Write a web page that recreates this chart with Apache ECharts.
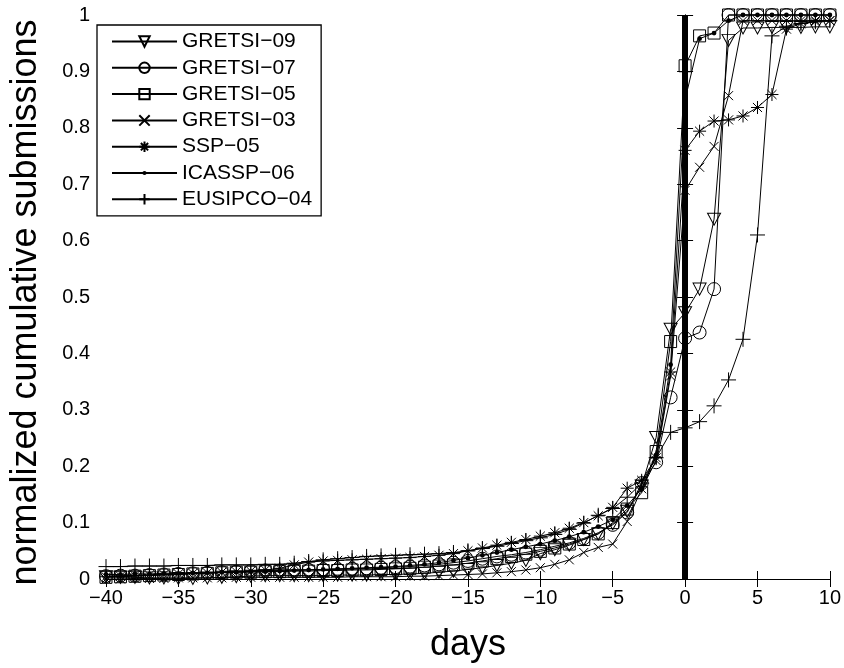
<!DOCTYPE html>
<html><head><meta charset="utf-8">
<script src="https://cdn.jsdelivr.net/npm/echarts@6/dist/echarts.min.js"></script>
<style>html,body{margin:0;padding:0;background:#fff}#c{width:844px;height:668px}</style>
</head><body><div id="c"></div>
<script>
const days = [-40,-39,-38,-37,-36,-35,-34,-33,-32,-31,-30,-29,-28,-27,-26,-25,-24,-23,-22,-21,
  -20,-19,-18,-17,-16,-15,-14,-13,-12,-11,-10,-9,-8,-7,-6,-5,-4,-3,-2,-1,0,1,2,3,4,5,6,7,8,9,10];

const gretsi09 = [0.004,0.003,0.003,0.002,0.002,0.001,0.001,0.002,0.003,0.004,0.005,0.006,0.006,0.006,0.006,0.006,0.007,0.007,0.007,0.008,
  0.008,0.009,0.010,0.012,0.014,0.017,0.020,0.024,0.028,0.033,
  0.045,0.052,0.060,0.070,0.080,0.098,0.120,0.165,
  0.251,0.443,0.472,0.514,0.638,0.955,0.977,0.977,0.978,0.978,0.978,0.979,0.979];
const gretsi07 = [0.005,0.006,0.006,0.007,0.008,0.009,0.010,0.011,0.012,0.013,0.014,0.015,0.015,0.016,0.016,0.017,0.017,0.018,0.019,0.020,
  0.021,0.022,0.024,0.026,0.029,0.032,0.036,0.040,0.043,0.047,
  0.052,0.058,0.064,0.072,0.082,0.096,0.118,0.170,
  0.207,0.322,0.427,0.437,0.514,1.0,1.0,1.0,1.0,1.0,1.0,1.0,1.0];
const gretsi05 = [0.003,0.004,0.005,0.006,0.007,0.008,0.009,0.010,0.011,0.012,0.012,0.013,0.013,0.014,0.014,0.015,0.015,0.016,0.016,0.017,
  0.018,0.019,0.021,0.023,0.025,0.028,0.032,0.036,0.040,0.044,
  0.049,0.055,0.062,0.070,0.080,0.100,0.124,0.153,
  0.226,0.421,0.910,0.963,0.968,1.0,1.0,1.0,1.0,1.0,1.0,1.0,1.0];
const gretsi03 = [0.000,0.000,0.001,0.001,0.001,0.002,0.002,0.002,0.002,0.003,0.003,0.003,0.003,0.003,0.003,0.003,0.003,0.004,0.004,0.004,
  0.004,0.005,0.005,0.006,0.007,0.008,0.009,0.011,0.013,0.016,
  0.020,0.026,0.034,0.047,0.056,0.062,0.102,0.160,
  0.210,0.360,0.689,0.730,0.767,0.857,0.990,0.990,0.990,0.990,0.990,0.990,0.990];
const ssp05 = [0.004,0.005,0.006,0.007,0.008,0.009,0.010,0.011,0.012,0.013,0.014,0.016,0.019,0.025,0.030,0.032,0.033,0.034,0.035,0.036,
  0.037,0.038,0.040,0.042,0.045,0.050,0.055,0.060,0.065,0.070,
  0.076,0.082,0.090,0.100,0.112,0.127,0.161,0.175,
  0.215,0.367,0.760,0.794,0.812,0.814,0.821,0.836,0.859,0.975,0.985,0.988,0.990];
const icassp06 = [0.008,0.008,0.009,0.009,0.010,0.010,0.011,0.011,0.012,0.012,0.013,0.013,0.014,0.015,0.016,0.017,0.018,0.019,0.020,0.021,
  0.022,0.024,0.026,0.029,0.033,0.037,0.042,0.047,0.052,0.057,
  0.062,0.068,0.075,0.083,0.093,0.105,0.130,0.160,
  0.220,0.380,0.850,0.958,0.968,0.990,1.0,1.0,1.0,1.0,1.0,1.0,1.0];
const eusipco04 = [0.022,0.022,0.023,0.023,0.023,0.024,0.024,0.024,0.025,0.025,0.025,0.026,0.026,0.028,0.031,0.034,0.036,0.038,0.040,0.041,
  0.042,0.043,0.044,0.045,0.047,0.050,0.054,0.058,0.063,0.068,
  0.073,0.079,0.088,0.099,0.113,0.125,0.145,0.170,
  0.215,0.260,0.268,0.279,0.307,0.353,0.425,0.610,0.963,0.980,0.985,0.988,0.990];

const seriesNames = ['GRETSI\u221209','GRETSI\u221207','GRETSI\u221205','GRETSI\u221203','SSP\u221205','ICASSP\u221206','EUSIPCO\u221204'];
const seriesValues = [gretsi09, gretsi07, gretsi05, gretsi03, ssp05, icassp06, eusipco04];
const deadlineDay = 0;
const xTicks = {min: -40, max: 10, step: 5};
const yTicks = {min: 0, max: 1, step: 0.1};

const CLEAR = 'rgba(0,0,0,0)';
const symbols = [
  {symbol: 'path://M0,0 L10,0 L5,8.66 Z', size: [13, 12], fill: CLEAR, bw: 1},
  {symbol: 'circle', size: 13, fill: CLEAR, bw: 1},
  {symbol: 'rect', size: 12, fill: CLEAR, bw: 1},
  {symbol: 'path://M0,0 L10,10 M10,0 L0,10', size: 9, fill: CLEAR, bw: 1},
  {symbol: 'path://M5,0 L5,10 M0,5 L10,5 M1.5,1.5 L8.5,8.5 M8.5,1.5 L1.5,8.5', size: 13, fill: CLEAR, bw: 1},
  {symbol: 'path://M0,0 L0.01,0 M10,10 L10.01,10 M5,3 A2,2 0 1 1 5,7 A2,2 0 1 1 5,3 Z', size: 12, fill: '#000', bw: 0},
  {symbol: 'path://M5,0 L5,10 M0,5 L10,5', size: 15, fill: CLEAR, bw: 1}
];

const FONT = 'Liberation Sans, Arial, Helvetica, sans-serif';
const minusFmt = v => String(v).replace('-', '\u2212');

const series = seriesNames.map((name, k) => {
  const s = {
    name: name,
    type: 'line',
    data: days.map((d, i) => [d, seriesValues[k][i]]),
    symbol: symbols[k].symbol,
    symbolSize: symbols[k].size,
    showAllSymbol: true,
    showSymbol: true,
    clip: false,
    lineStyle: {color: '#000', width: 1},
    itemStyle: {color: symbols[k].fill, borderColor: '#000', borderWidth: symbols[k].bw},
    emphasis: {disabled: true},
    z: 3
  };
  if (k === 0) {
    s.markLine = {
      silent: true, symbol: 'none', animation: false,
      label: {show: false},
      lineStyle: {color: '#000', width: 6, type: 'solid'},
      data: [{xAxis: deadlineDay}]
    };
  }
  return s;
});

const chart = echarts.init(document.getElementById('c'), null, {renderer: 'canvas'});
const axisCommon = {
  axisLine: {show: true, lineStyle: {color: '#000', width: 1}},
  splitLine: {show: false},
};
const tickStyle = {show: true, inside: true, length: 8, lineStyle: {color: '#000'}};
chart.setOption({
  animation: false,
  backgroundColor: '#fff',
  textStyle: {fontFamily: FONT},
  grid: {left: 87, right: 13, top: 15, bottom: 66, containLabel: false},
  legend: {
    orient: 'vertical', left: 97, top: 25,
    data: seriesNames,
    itemWidth: 65, itemHeight: 13, itemGap: 5.3,
    padding: [6, 9, 6, 14],
    backgroundColor: '#fff', borderColor: '#000', borderWidth: 1.3, borderRadius: 0,
    textStyle: {fontFamily: FONT, fontSize: 21, color: '#000', lineHeight: 21},
    inactiveColor: '#000', selectedMode: false
  },
  xAxis: [{
    type: 'value', min: xTicks.min, max: xTicks.max, interval: xTicks.step,
    name: 'days', nameLocation: 'middle', nameGap: 48,
    nameTextStyle: {fontFamily: FONT, fontSize: 36, color: '#000'},
    axisTick: tickStyle,
    axisLabel: {fontFamily: FONT, fontSize: 20, color: '#000', margin: 9, formatter: minusFmt},
    ...axisCommon
  }, {
    type: 'value', position: 'top', min: xTicks.min, max: xTicks.max, interval: xTicks.step,
    axisTick: tickStyle, axisLabel: {show: false}, ...axisCommon
  }],
  yAxis: [{
    type: 'value', min: yTicks.min, max: yTicks.max, interval: yTicks.step,
    name: 'normalized cumulative submissions', nameLocation: 'middle', nameGap: 62, nameRotate: 90,
    nameTextStyle: {fontFamily: FONT, fontSize: 36, color: '#000', padding: [0, 11, 0, 0]},
    axisTick: tickStyle,
    axisLabel: {fontFamily: FONT, fontSize: 20, color: '#000', margin: 16},
    ...axisCommon
  }, {
    type: 'value', position: 'right', min: yTicks.min, max: yTicks.max, interval: yTicks.step,
    axisTick: tickStyle, axisLabel: {show: false}, ...axisCommon
  }],
  series: series
});
</script>
</body></html>
